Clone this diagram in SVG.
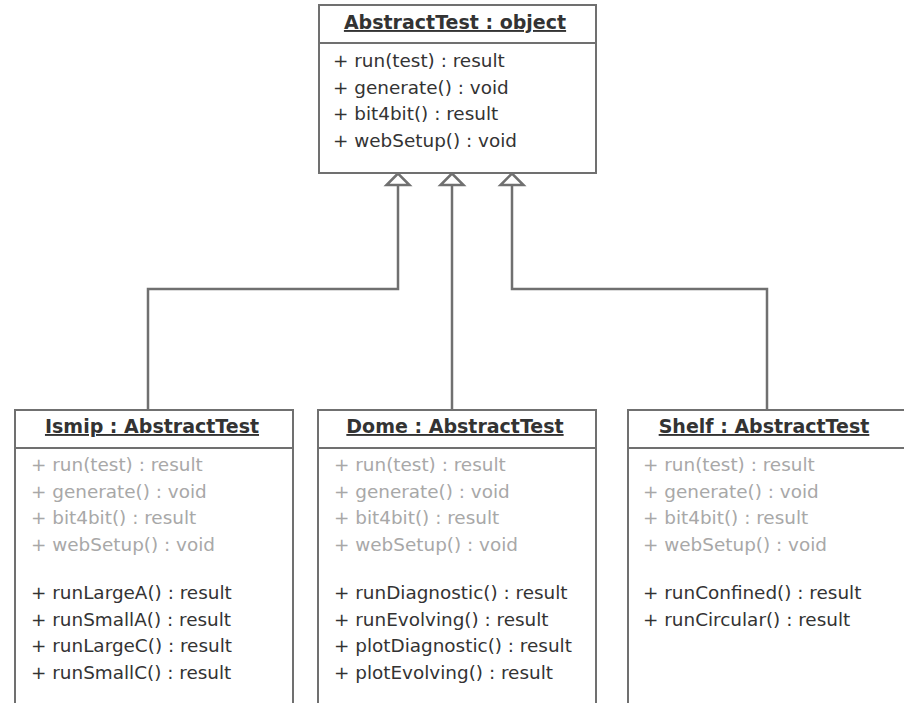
<svg xmlns="http://www.w3.org/2000/svg" width="904" height="703" viewBox="0 0 904 703">
<style>
.box{fill:#fff;stroke:#707070;stroke-width:2}
.sep{stroke:#707070;stroke-width:2}
.title{font-family:"DejaVu Sans",sans-serif;font-size:19px;font-weight:bold;fill:#333;text-anchor:middle;text-decoration:underline}
.m{font-family:"DejaVu Sans",sans-serif;font-size:18.4px;fill:#333}
.g{font-family:"DejaVu Sans",sans-serif;font-size:18.4px;fill:#a8a8a8}
.conn{fill:none;stroke:#707070;stroke-width:2.5;marker-end:url(#tri)}
</style>
<defs>
<marker id="tri" markerUnits="userSpaceOnUse" viewBox="-14 -14 16 28" markerWidth="16" markerHeight="28" refX="0" refY="0" orient="auto" overflow="visible">
<path d="M0,0 L-11.5,-11.5 L-11.5,11.5 Z" fill="#fff" stroke="#707070" stroke-width="2.5" stroke-linejoin="miter"/>
</marker>
</defs>
<rect width="904" height="703" fill="#fff"/>
<g id="connectors">
<path class="conn" d="M148,410 V289 H398 V173.5"/>
<path class="conn" d="M452,410 V173.5"/>
<path class="conn" d="M767,410 V289 H512 V173.5"/>
</g>
<g id="AbstractTest">
<rect class="box" x="319" y="5" width="277" height="168"/>
<line class="sep" x1="319" y1="43" x2="596" y2="43"/>
<text class="title" x="455" y="29">AbstractTest : object</text>
<text class="m" x="333" y="67">+ run(test) : result</text>
<text class="m" x="333" y="93.5">+ generate() : void</text>
<text class="m" x="333" y="120">+ bit4bit() : result</text>
<text class="m" x="333" y="147">+ webSetup() : void</text>
</g>
<g id="Ismip">
<rect class="box" x="15" y="410" width="278" height="310"/>
<line class="sep" x1="15" y1="448" x2="293" y2="448"/>
<text class="title" x="152" y="433">Ismip : AbstractTest</text>
<text class="g" x="31" y="471">+ run(test) : result</text>
<text class="g" x="31" y="497.5">+ generate() : void</text>
<text class="g" x="31" y="524">+ bit4bit() : result</text>
<text class="g" x="31" y="551">+ webSetup() : void</text>
<text class="m" x="31" y="599">+ runLargeA() : result</text>
<text class="m" x="31" y="625.5">+ runSmallA() : result</text>
<text class="m" x="31" y="652">+ runLargeC() : result</text>
<text class="m" x="31" y="679">+ runSmallC() : result</text>
</g>
<g id="Dome">
<rect class="box" x="318" y="410" width="278" height="310"/>
<line class="sep" x1="318" y1="448" x2="596" y2="448"/>
<text class="title" x="455" y="433">Dome : AbstractTest</text>
<text class="g" x="334" y="471">+ run(test) : result</text>
<text class="g" x="334" y="497.5">+ generate() : void</text>
<text class="g" x="334" y="524">+ bit4bit() : result</text>
<text class="g" x="334" y="551">+ webSetup() : void</text>
<text class="m" x="334" y="599">+ runDiagnostic() : result</text>
<text class="m" x="334" y="625.5">+ runEvolving() : result</text>
<text class="m" x="334" y="652">+ plotDiagnostic() : result</text>
<text class="m" x="334" y="679">+ plotEvolving() : result</text>
</g>
<g id="Shelf">
<rect class="box" x="628" y="410" width="278" height="310"/>
<line class="sep" x1="628" y1="448" x2="906" y2="448"/>
<text class="title" x="764" y="433">Shelf : AbstractTest</text>
<text class="g" x="643" y="471">+ run(test) : result</text>
<text class="g" x="643" y="497.5">+ generate() : void</text>
<text class="g" x="643" y="524">+ bit4bit() : result</text>
<text class="g" x="643" y="551">+ webSetup() : void</text>
<text class="m" x="643" y="599">+ runConfined() : result</text>
<text class="m" x="643" y="625.5">+ runCircular() : result</text>
</g>
</svg>
